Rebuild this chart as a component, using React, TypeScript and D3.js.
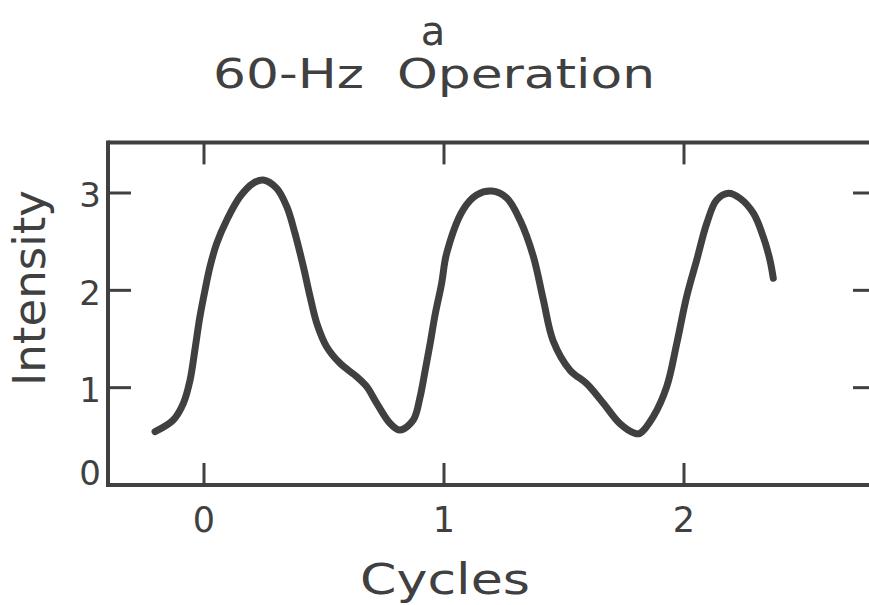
import React from "react";
import * as d3 from "d3";

// curve: cycles vs intensity
const cycles = [
  -0.204, -0.128, -0.086, -0.058, -0.038, -0.017, 0.004, 0.025, 0.053, 0.095, 0.15,
  0.205, 0.247, 0.303, 0.345, 0.379, 0.414, 0.442, 0.47, 0.511, 0.567, 0.636,
  0.678, 0.72, 0.775, 0.817, 0.872, 0.9, 0.921, 0.942, 0.963, 0.99, 1.011,
  1.08, 1.136, 1.199, 1.261, 1.317, 1.372, 1.414, 1.455, 1.525, 1.595, 1.664,
  1.733, 1.796, 1.817, 1.872, 1.928, 1.97, 2.011, 2.053, 2.095, 2.136, 2.185,
  2.233, 2.289, 2.33, 2.358, 2.372,
];
const intensity = [
  0.548, 0.668, 0.839, 1.079, 1.387, 1.729, 2.0, 2.243, 2.483, 2.723, 2.962,
  3.1, 3.134, 3.048, 2.859, 2.586, 2.243, 1.935, 1.661, 1.421, 1.25, 1.113,
  1.01, 0.839, 0.634, 0.565, 0.668, 0.9, 1.17, 1.45, 1.75, 2.07, 2.38,
  2.83, 2.98, 3.02, 2.95, 2.72, 2.35, 1.9, 1.48, 1.18, 1.04, 0.84,
  0.63, 0.53, 0.531, 0.702, 1.01, 1.456, 1.935, 2.312, 2.689, 2.928, 2.997,
  2.946, 2.792, 2.551, 2.312, 2.124,
];
const xTicks = [0, 1, 2];
const yTicks = [0, 1, 2, 3];

const W = 869;
const H = 605;
const ink = "#404040";
const font = "'DejaVu Sans', 'Liberation Sans', sans-serif";

export default function App() {
  const x = d3.scaleLinear().domain([-0.4, 2.8]).range([108, 876]);
  const y = d3.scaleLinear().domain([0, 3]).range([485, 193]);

  const left = x(-0.4);
  const right = x(2.8);
  const top = y(3.52);
  const bottom = y(0);

  const pts = cycles.map((c, i) => [c, intensity[i]] as [number, number]);
  const line = d3
    .line<[number, number]>()
    .x((d) => x(d[0]))
    .y((d) => y(d[1]))
    .curve(d3.curveCatmullRom.alpha(0.5));

  return (
    <svg
      width={W}
      height={H}
      style={{ position: "absolute", left: 0, top: 0, background: "#fff", overflow: "hidden" }}
    >
      {/* titles */}
      <text x={433} y={45} textAnchor="middle" fontFamily={font} fontSize={40} fill={ink}>
        a
      </text>
      <text
        x={434}
        y={88}
        textAnchor="middle"
        fontFamily={font}
        fontSize={41}
        fill={ink}
        textLength={442}
        lengthAdjust="spacingAndGlyphs"
        style={{ whiteSpace: "pre" }}
      >
        {"60-Hz  Operation"}
      </text>

      {/* frame: right side lies past the page edge */}
      <line x1={left} x2={right} y1={top} y2={top} stroke={ink} strokeWidth={4} />
      <line x1={left} x2={right} y1={bottom} y2={bottom} stroke={ink} strokeWidth={4} />
      <line x1={left} x2={left} y1={top - 2} y2={bottom + 2} stroke={ink} strokeWidth={4} />

      {/* x ticks, bottom and top */}
      {xTicks.map((t) => (
        <g key={"x" + t}>
          <line x1={x(t)} x2={x(t)} y1={bottom} y2={bottom - 22} stroke={ink} strokeWidth={3} />
          <line x1={x(t)} x2={x(t)} y1={top} y2={top + 22} stroke={ink} strokeWidth={3} />
          <text
            x={x(t)}
            y={532}
            textAnchor="middle"
            fontFamily={font}
            fontSize={35}
            fill={ink}
          >
            {t}
          </text>
        </g>
      ))}

      {/* y ticks, left and right */}
      {yTicks.map((t) => (
        <g key={"y" + t}>
          {t > 0 && (
            <>
              <line x1={left} x2={left + 23} y1={y(t)} y2={y(t)} stroke={ink} strokeWidth={3} />
              <line x1={right} x2={right - 23} y1={y(t)} y2={y(t)} stroke={ink} strokeWidth={3} />
            </>
          )}
          <text
            x={90}
            y={y(t) + (t === 0 ? -12 : 2)}
            dy="0.36em"
            textAnchor="middle"
            fontFamily={font}
            fontSize={34}
            fill={ink}
          >
            {t}
          </text>
        </g>
      ))}

      {/* data curve */}
      <path
        d={line(pts) ?? ""}
        fill="none"
        stroke={ink}
        strokeWidth={7}
        strokeLinecap="round"
        strokeLinejoin="round"
      />

      {/* axis titles */}
      <text
        x={445}
        y={594}
        textAnchor="middle"
        fontFamily={font}
        fontSize={42}
        fill={ink}
        textLength={170}
        lengthAdjust="spacingAndGlyphs"
      >
        Cycles
      </text>
      <text
        transform="translate(45,288) rotate(-90)"
        textAnchor="middle"
        fontFamily={font}
        fontSize={44}
        fill={ink}
        textLength={196}
        lengthAdjust="spacingAndGlyphs"
      >
        Intensity
      </text>
    </svg>
  );
}
